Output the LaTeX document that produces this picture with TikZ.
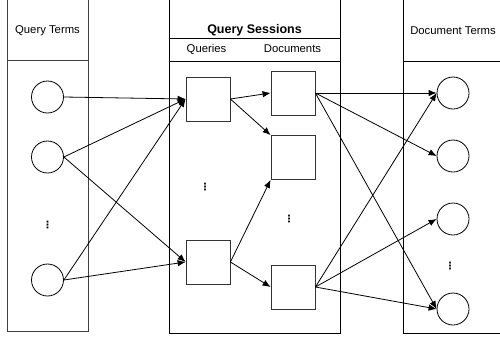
\documentclass[tikz,border=0pt]{standalone}
\usepackage{fontspec}
\setmainfont{Liberation Sans}
\newfontfamily\symfont{DejaVu Sans}
\usetikzlibrary{arrows.meta,positioning}
\tikzset{
  basic/.style   = {draw, line width=0.8pt, inner sep=0pt},
  column/.style  = {basic, rectangle, draw=black!75},
  term/.style    = {basic, circle, minimum size=32pt},
  session/.style = {basic, rectangle, draw=black!80, minimum width=44pt, minimum height=44pt},
  head/.style    = {font=\fontsize{11.3}{13}\selectfont},
  dots/.style    = {font=\symfont\bfseries\fontsize{10}{10}\selectfont, inner sep=0pt}
}

\begin{document}
\begin{tikzpicture}[x=1pt, y=-1pt, line width=0.8pt,
    >={Latex[length=8pt,width=6.5pt]}]
  \useasboundingbox (0,0) rectangle (500,338);

  % the three columns
  \node[column, minimum width=81pt,  minimum height=333pt] (qcol) at (47.5,164.5) {};
  \node[column, draw=black, minimum width=171pt, minimum height=335pt] (scol) at (254.5,165.5) {};
  \node[column, draw=black, minimum width=100pt, minimum height=335pt] (dcol) at (453,165.5) {};

  % header rows
  \draw[black!75] (qcol.west |- 0,60) -- (qcol.east |- 0,60);
  \draw (scol.west |- 0,38) -- (scol.east |- 0,38);
  \draw (scol.west |- 0,61) -- (scol.east |- 0,61);
  \draw (dcol.west |- 0,61) -- (dcol.east |- 0,61);

  \node[head] (qhead) at (47.5,30.5) {Query Terms};
  \node[head, font=\fontsize{12.5}{14}\selectfont\bfseries] (shead) at (254.5,30) {Query Sessions};
  \node[head] (squery) at (206.5,49) {Queries};
  \node[head] (sdoc) at (292.5,49) {Documents};
  \node[head] (dhead) at (453,30.5) {Document Terms};

  % query terms
  \node[term] (qt1) at (47.5,97) {};
  \node[term] (qt2) at (47.5,157) {};
  \node[dots] (qtd) at (47.5,225) {⋮};
  \node[term] (qt3) at (47.5,280) {};

  % sessions: queries and documents
  \node[session] (qb1) at (208,99) {};
  \node[dots] (qbd) at (205,187) {⋮};
  \node[session] (qb2) at (208,262) {};

  \node[session] (db1) at (293,93) {};
  \node[session] (db2) at (293,157.5) {};
  \node[dots] (dbd) at (289,219) {⋮};
  \node[session] (db3) at (293,287) {};

  % document terms
  \node[term] (dt1) at (453,93) {};
  \node[term] (dt2) at (453,156) {};
  \node[term] (dt3) at (453,219) {};
  \node[dots] (dtd) at (450,266) {⋮};
  \node[term] (dt4) at (453,309) {};

  % query terms to queries
  \foreach \from/\to in {qt1/qb1, qt2/qb1, qt2/qb2, qt3/qb1, qt3/qb2}
    \draw[->] (\from.east) -- (\to.west);

  % queries to documents
  \draw[->] (qb1.east) -- (db1.west);
  \draw[->] (qb1.east) -- (db2.north west);
  \draw[->] (qb2.east) -- (db2.south west);
  \draw[->] (qb2.east) -- (db3.west);

  % documents to document terms
  \foreach \to in {dt1, dt2, dt4}
    \draw[->] (db1.east) -- (\to.west);
  \foreach \to in {dt1, dt3, dt4}
    \draw[->] (db3.east) -- (\to.west);

\end{tikzpicture}
\end{document}
